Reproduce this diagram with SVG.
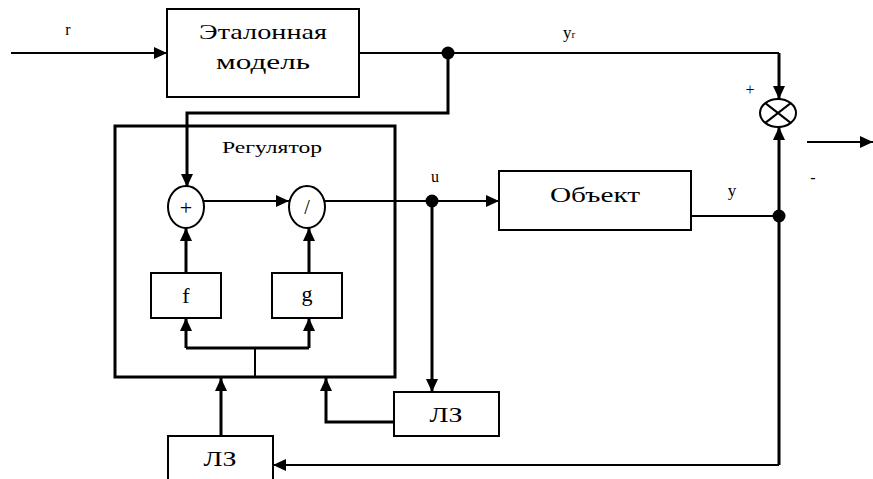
<svg xmlns="http://www.w3.org/2000/svg" width="873" height="479" viewBox="0 0 873 479">
<style>
.b{fill:#fff;stroke:#000;stroke-width:2}
.l{fill:none;stroke:#000;stroke-width:2}
.t{stroke:#000;fill:none;stroke-width:3}
.dot{fill:#000}
text{font-family:"Liberation Serif","Times New Roman",serif;fill:#000;font-weight:normal}
</style>
<defs>
<marker id="a" markerUnits="userSpaceOnUse" markerWidth="13" markerHeight="12" refX="13" refY="6" orient="auto">
<path d="M0,0 L13,6 L0,12 z" fill="#000"/>
</marker>
</defs>
<rect width="873" height="479" fill="#fff"/>
<g id="connectors">
<path class="l" d="M11,53 H167" marker-end="url(#a)"/>
<path class="l" d="M359,53 H779"/>
<path class="t" d="M779,53 V99" marker-end="url(#a)"/>
<path class="t" d="M448,53 V113 H187 V187" marker-end="url(#a)"/>
<path class="l" d="M204,201 H289" marker-end="url(#a)"/>
<path class="l" d="M325,201 H499" marker-end="url(#a)"/>
<path class="t" d="M432,201 V392" marker-end="url(#a)"/>
<path class="t" d="M186,273 V228" marker-end="url(#a)"/>
<path class="t" d="M309,273 V228" marker-end="url(#a)"/>
<path class="l" d="M255,377 V348"/>
<path class="t" d="M186,348 H309"/>
<path class="t" d="M186,348 V318" marker-end="url(#a)"/>
<path class="t" d="M309,348 V318" marker-end="url(#a)"/>
<path class="t" d="M394,422 H326 V378" marker-end="url(#a)"/>
<path class="t" d="M221,436 V378" marker-end="url(#a)"/>
<path class="l" d="M691,216 H779"/>
<path class="t" d="M779,465 V127" marker-end="url(#a)"/>
<path class="l" d="M779,465 H273" marker-end="url(#a)"/>
<path class="l" d="M807,142 H873" marker-end="url(#a)"/>
<circle class="dot" cx="448" cy="53" r="6.5"/>
<circle class="dot" cx="432" cy="201" r="6.5"/>
<circle class="dot" cx="779" cy="216" r="6.5"/>
</g>
<g id="etalon">
<rect class="b" x="167" y="9" width="192" height="88"/>
<text x="263" y="39" font-size="22" text-anchor="middle" textLength="128" lengthAdjust="spacingAndGlyphs">Эталонная</text>
<text x="263" y="69" font-size="22" text-anchor="middle" textLength="94" lengthAdjust="spacingAndGlyphs">модель</text>
</g>
<g id="regulator">
<rect class="t" x="115" y="126" width="280" height="251"/>
<text x="272" y="153" font-size="17" text-anchor="middle" textLength="100" lengthAdjust="spacingAndGlyphs">Регулятор</text>
</g>
<g id="sum">
<ellipse class="b" cx="186" cy="207" rx="18" ry="21"/>
<text x="186" y="215" font-size="22" text-anchor="middle">+</text>
</g>
<g id="div">
<ellipse class="b" cx="307" cy="207" rx="18" ry="21"/>
<text x="307" y="214" font-size="20" text-anchor="middle">/</text>
</g>
<g id="f">
<rect class="b" x="151" y="273" width="70" height="45"/>
<text x="186" y="303" font-size="22" text-anchor="middle">f</text>
</g>
<g id="g">
<rect class="b" x="272" y="273" width="70" height="45"/>
<text x="307" y="301" font-size="22" text-anchor="middle">g</text>
</g>
<g id="object">
<rect class="b" x="499" y="171" width="192" height="59"/>
<text x="595" y="202" font-size="22" text-anchor="middle" textLength="90" lengthAdjust="spacingAndGlyphs">Объект</text>
</g>
<g id="lz1">
<rect class="b" x="394" y="392" width="105" height="44"/>
<text x="446" y="422" font-size="20" text-anchor="middle" textLength="33" lengthAdjust="spacingAndGlyphs">ЛЗ</text>
</g>
<g id="lz2">
<rect class="b" x="168" y="436" width="105" height="50"/>
<text x="220" y="466" font-size="20" text-anchor="middle" textLength="33" lengthAdjust="spacingAndGlyphs">ЛЗ</text>
</g>
<g id="comparator">
<ellipse class="b" cx="778" cy="113" rx="18" ry="14"/>
<path class="l" d="M765.3,103.1 L790.7,122.9 M765.3,122.9 L790.7,103.1"/>
</g>
<g id="labels">
<text x="68" y="35" font-size="16" text-anchor="middle">r</text>
<text x="569" y="38" font-size="17" text-anchor="middle">y<tspan font-size="11">r</tspan></text>
<text x="750" y="95" font-size="16" text-anchor="middle">+</text>
<text x="813" y="183" font-size="16" text-anchor="middle">-</text>
<text x="435" y="182" font-size="16" text-anchor="middle">u</text>
<text x="732" y="196" font-size="17" text-anchor="middle">y</text>
</g>
</svg>
